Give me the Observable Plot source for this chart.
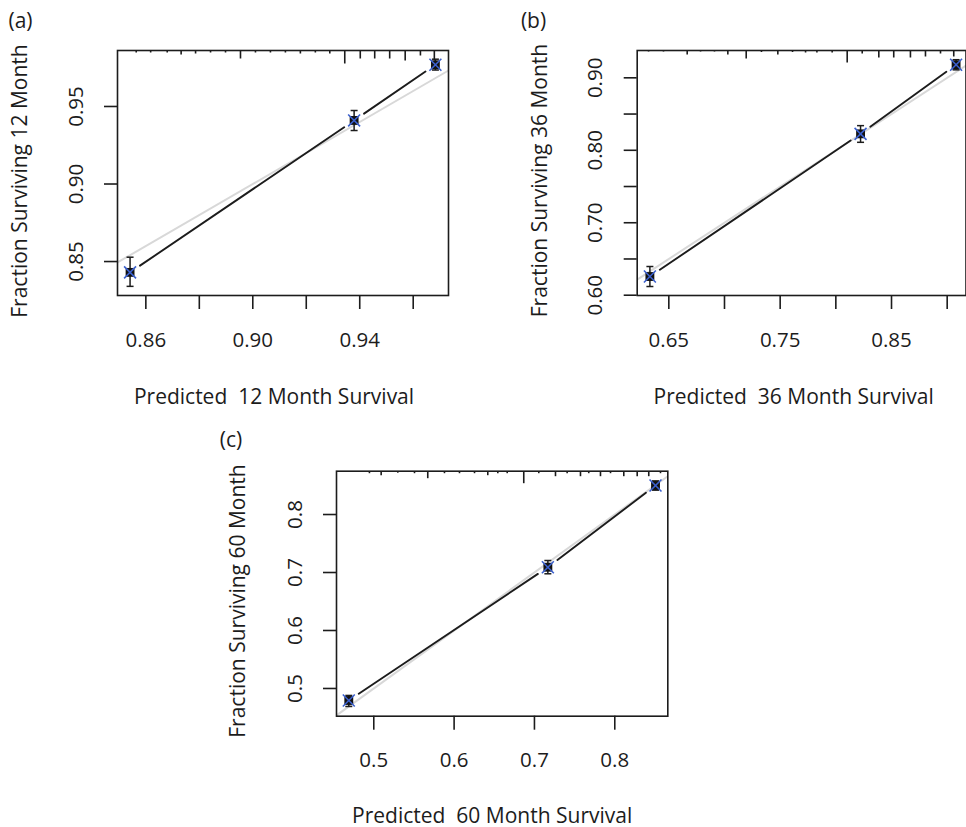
<!DOCTYPE html>
<html><head><meta charset="utf-8">
<script src="https://cdn.jsdelivr.net/npm/d3@7"></script>
<script src="https://cdn.jsdelivr.net/npm/@observablehq/plot@0.6"></script>
<style>
html,body{margin:0;padding:0;background:#fff;overflow:hidden;}
#root{position:relative;width:966px;height:827px;background:#fff;}
#root svg{position:absolute;}
</style></head><body><div id="root"></div>
<script>
// ---- Panel (a): 12 month ----
const tagA = "(a)";
const xTitleA = "Predicted  12 Month Survival";
const yTitleA = "Fraction Surviving 12 Month";
const predA = [0.8541, 0.9379, 0.9683];
const obsA  = [0.8430, 0.9410, 0.9769];
const loA   = [0.8340, 0.9345, 0.9735];
const hiA   = [0.8528, 0.9474, 0.9805];
const xLimA = [0.8494, 0.9732];
const yLimA = [0.8281, 0.9861];
const xTicksA = [0.86, 0.88, 0.90, 0.92, 0.94, 0.96];
const xTickLabelsA = ["0.86", "0.90", "0.94"];
const yTicksA = [0.85, 0.90, 0.95];
const yTickLabelsA = ["0.85", "0.90", "0.95"];
const spikeXA = [0.8564, 0.8618, 0.8680, 0.8732, 0.8786, 0.8842, 0.8898, 0.8954, 0.9010, 0.9066, 0.9122, 0.9178, 0.9234, 0.9288, 0.9344, 0.9402, 0.9456, 0.9512, 0.9570, 0.9627, 0.9679];
const spikeNA = [2, 2, 2, 4, 3, 2, 2, 8, 2, 2, 2, 3, 2, 3, 13, 8, 8, 8, 10, 5, 10];

// ---- Panel (b): 36 month ----
const tagB = "(b)";
const xTitleB = "Predicted  36 Month Survival";
const yTitleB = "Fraction Surviving 36 Month";
const predB = [0.6330, 0.8222, 0.9080];
const obsB  = [0.6258, 0.8227, 0.9180];
const loB   = [0.6120, 0.8110, 0.9110];
const hiB   = [0.6396, 0.8340, 0.9250];
const xLimB = [0.6216, 0.9169];
const yLimB = [0.5996, 0.9377];
const xTicksB = [0.65, 0.70, 0.75, 0.80, 0.85, 0.90];
const xTickLabelsB = ["0.65", "0.75", "0.85"];
const yTicksB = [0.60, 0.65, 0.70, 0.75, 0.80, 0.85, 0.90];
const yTickLabelsB = ["0.60", "0.70", "0.80", "0.90"];
const spikeXB = [0.6318, 0.6452, 0.6665, 0.6785, 0.6910, 0.7030, 0.7195, 0.7332, 0.7479, 0.7611, 0.7728, 0.7830, 0.7967, 0.8102, 0.8237, 0.8386, 0.8520, 0.8670, 0.8805, 0.8940, 0.9059];
const spikeNB = [1, 1, 4, 1, 1, 4, 8, 1.5, 4, 1.5, 2, 2, 2, 12, 3, 7, 7, 7, 6, 3, 6];

// ---- Panel (c): 60 month ----
const tagC = "(c)";
const xTitleC = "Predicted  60 Month Survival";
const yTitleC = "Fraction Surviving 60 Month";
const predC = [0.4689, 0.7167, 0.8507];
const obsC  = [0.4793, 0.7091, 0.8500];
const loC   = [0.4690, 0.6978, 0.8420];
const hiC   = [0.4880, 0.7207, 0.8580];
const xLimC = [0.4536, 0.8660];
const yLimC = [0.4522, 0.8747];
const xTicksC = [0.5, 0.6, 0.7, 0.8];
const xTickLabelsC = ["0.5", "0.6", "0.7", "0.8"];
const yTicksC = [0.5, 0.6, 0.7, 0.8];
const yTickLabelsC = ["0.5", "0.6", "0.7", "0.8"];
const spikeXC = [0.4946, 0.5092, 0.5299, 0.5507, 0.5672, 0.5880, 0.6067, 0.6254, 0.6419, 0.6544, 0.6661, 0.6867, 0.7054, 0.7262, 0.7407, 0.7573, 0.7676, 0.7822, 0.7947, 0.8112, 0.8279, 0.8423, 0.8569];
const spikeNC = [2, 4, 1.5, 2, 7, 2, 2, 2, 4, 2, 2, 12, 2, 5, 2, 5, 2, 5, 2, 5, 5, 5, 2];

const FONT = "'Open Sans', 'Noto Sans', sans-serif";
const INK = "#1c1c1c";
const capSymbol = {draw(ctx, size) { const r = Math.sqrt(size / Math.PI); ctx.moveTo(-r, 0); ctx.lineTo(r, 0); }};

function panel(c) {
  const xa = c.xLim[0], xb = c.xLim[1], ya = c.yLim[0], yb = c.yLim[1];
  const plotH = c.height - c.mt - c.mb;
  const perPx = (yb - ya) / plotH;
  const idx = d3.range(c.pred.length);
  const seg = d3.range(c.pred.length - 1);
  const sp = d3.range(c.spikeX.length);
  const svg = Plot.plot({
    width: c.width, height: c.height,
    marginLeft: c.ml, marginRight: c.mr, marginTop: c.mt, marginBottom: c.mb,
    x: {domain: c.xLim}, y: {domain: c.yLim},
    style: {fontFamily: FONT, fontSize: "20px", color: INK, background: "transparent"},
    marks: [
      Plot.link([0], {x1: () => xa, y1: () => xa, x2: () => xb, y2: () => xb, stroke: "#d8d8d8", strokeWidth: 2}),
      Plot.arrow(seg, {x1: i => c.pred[i], y1: i => c.obs[i], x2: i => c.pred[i + 1], y2: i => c.obs[i + 1],
        headLength: 0, insetStart: 12, insetEnd: 12, stroke: INK, strokeWidth: 1.9}),
      Plot.link(idx, {x1: i => c.pred[i], x2: i => c.pred[i], y1: i => c.lo[i], y2: i => c.hi[i], stroke: INK, strokeWidth: 1.5}),
      Plot.dot(idx, {x: i => c.pred[i], y: i => c.lo[i], symbol: capSymbol, r: 3.5, stroke: INK, strokeWidth: 1.5}),
      Plot.dot(idx, {x: i => c.pred[i], y: i => c.hi[i], symbol: capSymbol, r: 3.5, stroke: INK, strokeWidth: 1.5}),
      Plot.dot(idx, {x: i => c.pred[i], y: i => c.obs[i], symbol: "square", r: 5, fill: "#111", stroke: "none"}),
      Plot.dot(idx, {x: i => c.pred[i], y: i => c.obs[i], symbol: "times", r: 5.5, stroke: "#3a5fcd", strokeWidth: 1.6}),
      Plot.link(sp, {x1: i => c.spikeX[i], x2: i => c.spikeX[i], y1: () => yb, y2: i => yb - c.spikeN[i] * perPx, stroke: INK, strokeWidth: 1.6}),
      Plot.frame({stroke: INK, strokeWidth: 1.6}),
      Plot.axisX({ticks: c.xTicks, tickSize: 14, fill: "none", stroke: INK, strokeWidth: 1.6, label: null}),
      Plot.axisY({ticks: c.yTicks, tickSize: 13, fill: "none", stroke: INK, strokeWidth: 1.6, label: null}),
      Plot.text(c.xTickLabels, {x: d => +d, y: () => ya, dy: c.xLabDy, text: d => d, fontSize: 20.5, fill: INK, textAnchor: "middle", lineAnchor: "middle"}),
      Plot.text(c.yTickLabels, {x: () => xa, y: d => +d, dx: c.yLabDx, rotate: -90, text: d => d, fontSize: 20.5, fill: INK, textAnchor: "middle", lineAnchor: "middle"}),
      Plot.text([c.xTitle], {frameAnchor: "bottom", dx: c.xtDx, dy: c.xtDy, text: d => d, fontSize: 21, fill: INK, textAnchor: "middle", lineAnchor: "middle"}),
      Plot.text([c.yTitle], {frameAnchor: "left", rotate: -90, dx: c.ytDx, dy: c.ytDy, text: d => d, fontSize: 21, fill: INK, textAnchor: "middle", lineAnchor: "middle"}),
      Plot.text([c.tag], {frameAnchor: "top-left", dx: c.tagDx, dy: c.tagDy, textAnchor: "middle", text: d => d, fontSize: 21, fill: INK, lineAnchor: "middle"})
    ]
  });
  svg.style.left = c.left + "px";
  svg.style.top = c.top + "px";
  svg.style.overflow = "visible";
  return svg;
}

const root = document.getElementById("root");
root.appendChild(panel({
  left: 0, top: 0, width: 480, height: 420, ml: 117, mr: 32, mt: 50, mb: 125,
  xLim: xLimA, yLim: yLimA, pred: predA, obs: obsA, lo: loA, hi: hiA,
  xTicks: xTicksA, yTicks: yTicksA, xTickLabels: xTickLabelsA, yTickLabels: yTickLabelsA,
  spikeX: spikeXA, spikeN: spikeNA, xTitle: xTitleA, yTitle: yTitleA, tag: tagA,
  xLabDy: 45, yLabDx: -41, xtDx: -9, xtDy: 102, ytDx: -97, ytDy: 8, tagDx: -97, tagDy: -29
}));
root.appendChild(panel({
  left: 500, top: 0, width: 466, height: 420, ml: 136.7, mr: 0.5, mt: 50, mb: 125,
  xLim: xLimB, yLim: yLimB, pred: predB, obs: obsB, lo: loB, hi: hiB,
  xTicks: xTicksB, yTicks: yTicksB, xTickLabels: xTickLabelsB, yTickLabels: yTickLabelsB,
  spikeX: spikeXB, spikeN: spikeNB, xTitle: xTitleB, yTitle: yTitleB, tag: tagB,
  xLabDy: 45, yLabDx: -41.7, xtDx: -8, xtDy: 102, ytDx: -96.7, ytDy: 7.5, tagDx: -103.7, tagDy: -29
}));
root.appendChild(panel({
  left: 210, top: 420, width: 470, height: 407, ml: 126, mr: 12.7, mt: 50.7, mb: 111.3,
  xLim: xLimC, yLim: yLimC, pred: predC, obs: obsC, lo: loC, hi: hiC,
  xTicks: xTicksC, yTicks: yTicksC, xTickLabels: xTickLabelsC, yTickLabels: yTickLabelsC,
  spikeX: spikeXC, spikeN: spikeNC, xTitle: xTitleC, yTitle: yTitleC, tag: tagC,
  xLabDy: 44.3, yLabDx: -41, xtDx: -10, xtDy: 100, ytDx: -98, ytDy: 7.3, tagDx: -105.5, tagDy: -30.7
}));
</script></body></html>
